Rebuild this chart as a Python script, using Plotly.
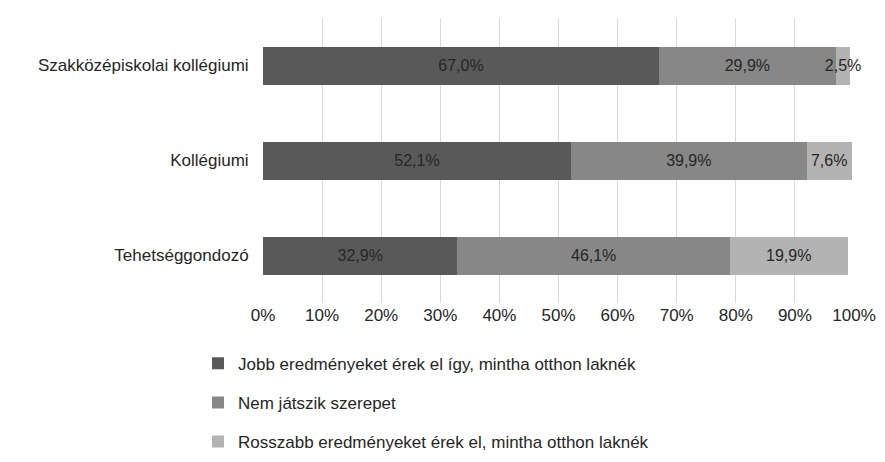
import plotly.graph_objects as go

categories = ["Tehetséggondozó", "Kollégiumi", "Szakközépiskolai kollégiumi"]
series_names = ["Jobb eredményeket érek el így, mintha otthon laknék",
                "Nem játszik szerepet",
                "Rosszabb eredményeket érek el, mintha otthon laknék"]
better = [32.9, 52.1, 67.0]
neutral = [46.1, 39.9, 29.9]
worse = [19.9, 7.6, 2.5]
tick_vals = [0, 10, 20, 30, 40, 50, 60, 70, 80, 90, 100]
tick_text = [f"{v}%" for v in tick_vals]

colors = ["#595959", "#878787", "#b3b3b3"]
fig = go.Figure()
for i, (name, vals, c) in enumerate(zip(series_names, [better, neutral, worse], colors)):
    fig.add_trace(go.Bar(
        y=categories, x=vals, name=name, orientation="h", marker_color=c,
        marker_line_width=0, legendgroup=f"g{i}",
        text=[f"{v:.1f}%".replace(".", ",") for v in vals],
        textposition="inside", insidetextanchor="middle", textangle=0,
        constraintext="none",
        textfont=dict(color="#262626", size=16), cliponaxis=False,
    ))

fig.update_layout(
    barmode="stack", width=885, height=462, bargap=0.6,
    paper_bgcolor="white", plot_bgcolor="white",
    font=dict(family="Liberation Sans Narrow, Liberation Sans", size=16, color="#262626"),
    margin=dict(l=255, r=39, t=10, b=165),
    uniformtext=dict(minsize=12, mode="show"),
    xaxis=dict(range=[0, 100], tickvals=tick_vals, ticktext=tick_text, automargin=False,
               showgrid=True, gridcolor="#d9d9d9", gridwidth=1, zeroline=False,
               ticks="", ticklen=0, tickfont=dict(size=17)),
    yaxis=dict(showgrid=False, ticks="outside", ticklen=10, tickcolor="white",
               automargin=False, tickfont=dict(size=17)),
    legend=dict(orientation="v", x=-0.11, xanchor="left", y=-0.15, yanchor="top",
                traceorder="grouped", font=dict(size=17), tracegroupgap=14,
                itemwidth=30),
)
fig.write_html("out.html")
